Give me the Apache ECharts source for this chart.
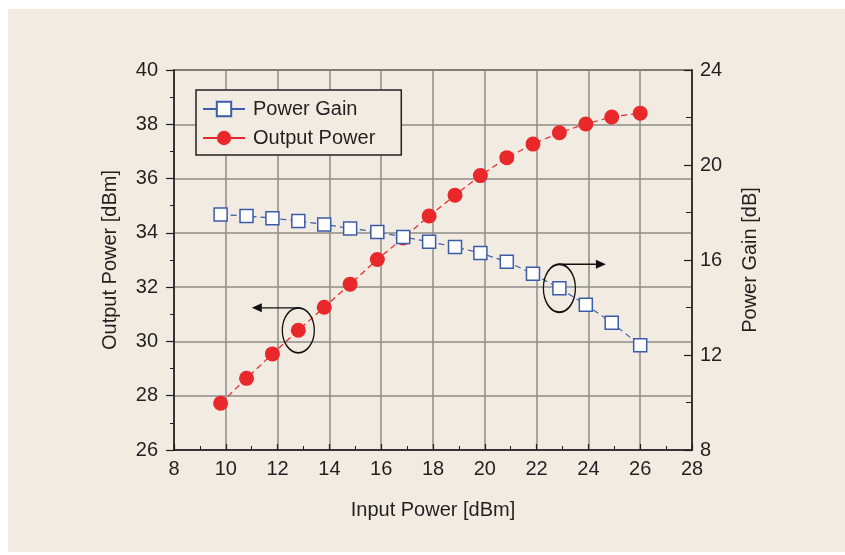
<!DOCTYPE html>
<html>
<head>
<meta charset="utf-8">
<script src="https://cdn.jsdelivr.net/npm/echarts@6/dist/echarts.min.js"></script>
<style>
  html, body { margin:0; padding:0; background:#ffffff; }
  #bg { position:absolute; left:8px; top:9px; width:837px; height:543px; background:#f1ebe2; }
  #chart { position:absolute; left:0; top:0; width:845px; height:555px; }
</style>
</head>
<body>
<div id="bg"></div>
<div id="chart"></div>
<script>
// ---- data ----
const inputPower  = [9.8, 10.8, 11.8, 12.8, 13.8, 14.8, 15.85, 16.85, 17.85, 18.85, 19.83, 20.85, 21.86, 22.88, 23.9, 24.9, 26.0];
const outputPower = [27.72, 28.64, 29.54, 30.41, 31.26, 32.11, 33.02, 33.81, 34.62, 35.39, 36.11, 36.77, 37.27, 37.69, 38.01, 38.27, 38.41];
const powerGain   = [17.92, 17.85, 17.76, 17.64, 17.50, 17.33, 17.18, 16.97, 16.77, 16.55, 16.29, 15.93, 15.42, 14.81, 14.12, 13.36, 12.41];
const seriesNames = ['Power Gain', 'Output Power'];
const xAxisTitle = 'Input Power [dBm]';
const yLeftTitle = 'Output Power [dBm]';
const yRightTitle = 'Power Gain [dB]';

const textColor = '#231f20';
const font = 'Liberation Sans, Arial, Helvetica, sans-serif';

const chart = echarts.init(document.getElementById('chart'), null, { renderer: 'canvas' });

const option = {
  backgroundColor: 'transparent',
  animation: false,
  textStyle: { fontFamily: font, color: textColor },
  grid: {
    left: 174, right: 153, top: 70, bottom: 105,
    show: true, borderColor: '#1e1e1e', borderWidth: 1.5, backgroundColor: 'transparent'
  },
  legend: {
    data: seriesNames,
    orient: 'vertical',
    left: 196, top: 90,
    padding: [9, 26, 7, 6],
    itemWidth: 42, itemHeight: 18, itemGap: 9,
    borderColor: '#222', borderWidth: 1.5,
    backgroundColor: '#f1ebe2',
    lineStyle: { type: 'solid' },
    textStyle: { fontSize: 20, color: textColor, fontFamily: font, padding: [0, 0, 0, 3] }
  },
  xAxis: {
    type: 'value', min: 8, max: 28, interval: 2,
    name: xAxisTitle, nameLocation: 'middle', nameGap: 50,
    nameTextStyle: { fontSize: 20, color: textColor, fontFamily: font },
    axisLine: { show: true, lineStyle: { color: '#1e1e1e', width: 1.5 } },
    axisTick: { show: true, inside: true, length: 6, lineStyle: { color: '#1e1e1e', width: 1.2 } },
    minorTick: { show: true, splitNumber: 2, length: 4, lineStyle: { color: '#1e1e1e', width: 1 } },
    axisLabel: { fontSize: 20, color: textColor, fontFamily: font, margin: 9 },
    splitLine: { show: true, lineStyle: { color: '#8e8c89', width: 1.5 } }
  },
  yAxis: [
    {
      type: 'value', min: 26, max: 40, interval: 2, position: 'left',
      name: yLeftTitle, nameLocation: 'middle', nameGap: 54, nameRotate: 90,
      nameTextStyle: { fontSize: 20, color: textColor, fontFamily: font },
      axisLine: { show: true, lineStyle: { color: '#1e1e1e', width: 1.5 } },
      axisTick: { show: true, inside: false, length: 8, lineStyle: { color: '#1e1e1e', width: 1.2 } },
      minorTick: { show: true, splitNumber: 2, length: 4, lineStyle: { color: '#1e1e1e', width: 1 } },
      axisLabel: { fontSize: 20, color: textColor, fontFamily: font, margin: 16 },
      splitLine: { show: true, lineStyle: { color: '#8e8c89', width: 1.5 } }
    },
    {
      type: 'value', min: 8, max: 24, interval: 4, position: 'right',
      name: yRightTitle, nameLocation: 'middle', nameGap: 48, nameRotate: 90,
      nameTextStyle: { fontSize: 20, color: textColor, fontFamily: font },
      axisLine: { show: true, lineStyle: { color: '#1e1e1e', width: 1.5 } },
      axisTick: { show: true, inside: true, length: 8, lineStyle: { color: '#1e1e1e', width: 1.2 } },
      minorTick: { show: true, splitNumber: 2, length: 6, lineStyle: { color: '#1e1e1e', width: 1 } },
      axisLabel: { fontSize: 20, color: textColor, fontFamily: font, margin: 8 },
      splitLine: { show: false }
    }
  ],
  series: [
    {
      name: seriesNames[1], type: 'line', xAxisIndex: 0, yAxisIndex: 0,
      data: inputPower.map((x, i) => [x, outputPower[i]]),
      symbol: 'circle', symbolSize: 15,
      itemStyle: { color: '#e8282b' },
      lineStyle: { color: '#e8282b', width: 1.2, type: [6, 4] },
      z: 3
    },
    {
      name: seriesNames[0], type: 'line', xAxisIndex: 0, yAxisIndex: 1,
      data: inputPower.map((x, i) => [x, powerGain[i]]),
      symbol: 'rect', symbolSize: 13,
      itemStyle: { color: '#ffffff', borderColor: '#3b5ca8', borderWidth: 1.5 },
      lineStyle: { color: '#3b5ca8', width: 1.2, type: [6, 4] },
      z: 4
    }
  ]
};
chart.setOption(option);

// annotations anchored to data points
const iLeft = 3, iRight = 13;
const p1 = chart.convertToPixel({ xAxisIndex: 0, yAxisIndex: 0 }, [inputPower[iLeft], outputPower[iLeft]]);
const p2 = chart.convertToPixel({ xAxisIndex: 0, yAxisIndex: 1 }, [inputPower[iRight], powerGain[iRight]]);
const ink = '#111111';
function ellipse(p, rx, ry) {
  return {
    type: 'circle', x: p[0], y: p[1], scaleX: 1, scaleY: ry / rx, z: 10,
    shape: { cx: 0, cy: 0, r: rx },
    style: { fill: 'none', stroke: ink, lineWidth: 1.3, strokeNoScale: true }
  };
}
function arrow(x0, x1, y) {
  const dir = x1 > x0 ? 1 : -1;
  const head = 10;
  return [
    { type: 'line', z: 10, shape: { x1: x0, y1: y, x2: x1 - dir * head, y2: y }, style: { stroke: ink, lineWidth: 1.3 } },
    { type: 'polygon', z: 10, shape: { points: [[x1, y], [x1 - dir * head, y - 4.5], [x1 - dir * head, y + 4.5]] }, style: { fill: ink } }
  ];
}
const ry1 = 22.5, ry2 = 24;
chart.setOption({
  graphic: [
    ellipse(p1, 16, ry1),
    ...arrow(p1[0] + 2, p1[0] - 46.5, p1[1] - ry1),
    ellipse(p2, 16, ry2),
    ...arrow(p2[0] - 1, p2[0] + 46.5, p2[1] - ry2)
  ]
});
</script>
</body>
</html>
